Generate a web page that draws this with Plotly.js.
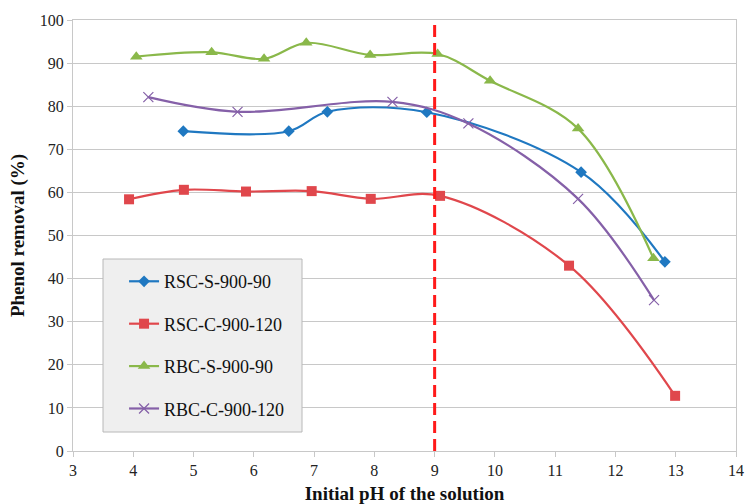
<!DOCTYPE html>
<html>
<head>
<meta charset="utf-8">
<script src="https://cdn.plot.ly/plotly-3.0.1.min.js"></script>
<style>html,body{margin:0;padding:0;background:#fff;}#chart{width:748px;height:504px;}</style>
</head>
<body>
<div id="chart"></div>
<script>
const seriesNames = ["RSC-S-900-90", "RSC-C-900-120", "RBC-S-900-90", "RBC-C-900-120"];

const rscS_x = [4.83, 6.58, 7.22, 8.87, 11.43, 12.82];
const rscS_y = [74.2, 74.2, 78.7, 78.6, 64.7, 43.9];

const rscC_x = [3.93, 4.84, 5.87, 6.96, 7.94, 9.09, 11.23, 12.99];
const rscC_y = [58.4, 60.6, 60.2, 60.3, 58.5, 59.2, 43.0, 12.8];

const rbcS_x = [4.05, 5.30, 6.17, 6.87, 7.93, 9.05, 9.92, 11.38, 12.63];
const rbcS_y = [91.5, 92.5, 91.0, 94.7, 91.9, 92.1, 85.9, 74.8, 44.7];

const rbcC_x = [4.25, 5.73, 8.30, 9.56, 11.38, 12.64];
const rbcC_y = [82.1, 78.7, 81.0, 76.0, 58.5, 35.0];

const thresholdPH = 9;

const colors = ["#1f78c1", "#e0474c", "#8ab84a", "#8560a8"];
const symbols = ["diamond", "square", "triangle-up", "x-thin"];
const sizes = [9, 10, 11, 10];
const xs = [rscS_x, rscC_x, rbcS_x, rbcC_x];
const ys = [rscS_y, rscC_y, rbcS_y, rbcC_y];

const traces = seriesNames.map((n, i) => ({
  x: xs[i], y: ys[i], name: n, type: "scatter", mode: "lines+markers",
  legendgroup: "g" + i,
  line: {color: colors[i], width: 2.2, shape: "spline", smoothing: 1},
  marker: {symbol: symbols[i], size: sizes[i], color: colors[i],
           line: {color: colors[i], width: i === 3 ? 1.2 : 0}}
}));

const font = "Liberation Serif";
const layout = {
  width: 748, height: 504,
  margin: {l: 73, r: 12, t: 20, b: 53},
  paper_bgcolor: "#fff", plot_bgcolor: "#fff",
  font: {family: font, size: 16, color: "#222"},
  showlegend: true,
  legend: {x: 0.077, y: 0.436, xanchor: "left", yanchor: "top",
           bgcolor: "rgba(0,0,0,0)", borderwidth: 0,
           font: {family: font, size: 18, color: "#111"},
           traceorder: "grouped", tracegroupgap: 16, itemwidth: 30},
  xaxis: {range: [3, 14], dtick: 1, tick0: 3, showgrid: false, zeroline: false,
          showline: true, linecolor: "#c8c8c8", linewidth: 1, mirror: true,
          ticks: "outside", ticklen: 5, tickcolor: "#c8c8c8",
          tickfont: {family: font, size: 16, color: "#222"},
          title: {text: "<b>Initial pH of the solution</b>", standoff: 15,
                  font: {family: font, size: 19, color: "#111"}}},
  yaxis: {range: [0, 100], dtick: 10, showgrid: true, gridcolor: "#c8c8c8", gridwidth: 1,
          zeroline: false, showline: true, linecolor: "#c8c8c8", linewidth: 1, mirror: true,
          ticks: "outside", ticklen: 5, tickcolor: "#c8c8c8",
          tickfont: {family: font, size: 16, color: "#222"},
          title: {text: "<b>Phenol removal (%)</b>", standoff: 10,
                  font: {family: font, size: 19, color: "#111"}}},
  shapes: [
    {type: "rect", xref: "paper", yref: "paper", layer: "above",
     x0: (103 - 73) / 663, x1: (302 - 73) / 663, y0: (451 - 432) / 431, y1: (451 - 259) / 431,
     fillcolor: "#efefef", line: {color: "#b8b8b8", width: 1}},
    {type: "line", xref: "x", yref: "y", x0: thresholdPH, x1: thresholdPH, y0: 0, y1: 100,
     line: {color: "#ff1a1a", width: 3, dash: "12px,6px"}}
  ]
};

Plotly.newPlot("chart", traces, layout, {displayModeBar: false, staticPlot: true});
</script>
</body>
</html>
